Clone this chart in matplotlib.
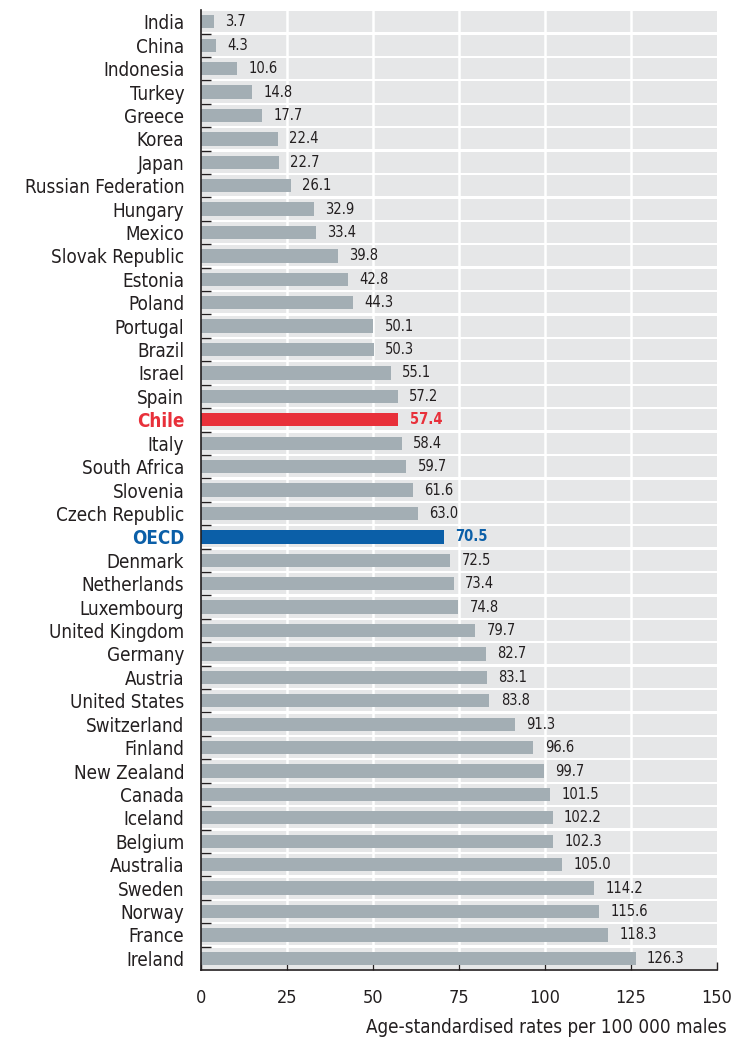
import numpy as np
import matplotlib.pyplot as plt

plt.rcParams['font.family'] = ['DejaVu Sans']
plt.rcParams['font.stretch'] = 'condensed'

countries = ['India', 'China', 'Indonesia', 'Turkey', 'Greece', 'Korea', 'Japan',
             'Russian Federation', 'Hungary', 'Mexico', 'Slovak Republic', 'Estonia',
             'Poland', 'Portugal', 'Brazil', 'Israel', 'Spain', 'Chile', 'Italy',
             'South Africa', 'Slovenia', 'Czech Republic', 'OECD', 'Denmark',
             'Netherlands', 'Luxembourg', 'United Kingdom', 'Germany', 'Austria',
             'United States', 'Switzerland', 'Finland', 'New Zealand', 'Canada',
             'Iceland', 'Belgium', 'Australia', 'Sweden', 'Norway', 'France', 'Ireland']
rates = [3.7, 4.3, 10.6, 14.8, 17.7, 22.4, 22.7, 26.1, 32.9, 33.4, 39.8, 42.8,
         44.3, 50.1, 50.3, 55.1, 57.2, 57.4, 58.4, 59.7, 61.6, 63.0, 70.5, 72.5,
         73.4, 74.8, 79.7, 82.7, 83.1, 83.8, 91.3, 96.6, 99.7, 101.5, 102.2,
         102.3, 105.0, 114.2, 115.6, 118.3, 126.3]
highlight = {'Chile': '#e8303a', 'OECD': '#0b5fa8'}

grey = '#a3aeb4'
colors = [highlight.get(c, grey) for c in countries]
y = np.arange(len(countries))

fig = plt.figure(figsize=(7.32, 10.4), dpi=100)
ax = fig.add_axes([0.2746, 0.0673, 0.705, 0.923])

# light panel strips with white gaps between rows
for i in y:
    ax.axhspan(i - 0.45, i + 0.45, color='#e6e7e8', lw=0, zorder=0)
for xv in [25, 50, 75, 100, 125]:
    ax.axvline(xv, color='white', lw=1.8, zorder=1)

ax.barh(y, rates, height=0.57, color=colors, zorder=2)

for i, (c, v) in enumerate(zip(countries, rates)):
    col = highlight.get(c, '#231f20')
    ax.text(v + 3.3, i, f'{v:.1f}', va='center', ha='left', fontsize=10.5,
            color=col, fontweight='bold' if c in highlight else 'normal', zorder=3)

ax.set_xlim(0, 150)
ax.set_ylim(len(countries) - 0.5, -0.5)
ax.set_facecolor('white')

ax.set_yticks(y)
ax.set_yticklabels(countries, fontsize=13.5)
for lbl, c in zip(ax.get_yticklabels(), countries):
    if c in highlight:
        lbl.set_color(highlight[c])
        lbl.set_fontweight('bold')
    else:
        lbl.set_color('#231f20')
ax.tick_params(axis='y', length=0, pad=12)
ax.set_yticks(np.arange(len(countries) - 1) + 0.5, minor=True)
ax.tick_params(axis='y', which='minor', direction='in', length=7, width=1, color='#231f20')

ax.set_xticks([0, 25, 50, 75, 100, 125, 150])
ax.tick_params(axis='x', direction='in', length=6, width=1, color='#231f20',
               labelsize=13, pad=14, labelcolor='#231f20')
ax.set_xlabel('Age-standardised rates per 100 000 males', fontsize=13.5,
              color='#231f20', ha='right')
ax.xaxis.set_label_coords(1.018, -0.05)

for s in ['top', 'right']:
    ax.spines[s].set_visible(False)
for s in ['left', 'bottom']:
    ax.spines[s].set_color('#231f20')
    ax.spines[s].set_linewidth(1.2)

fig.savefig('out.png', dpi=100)
